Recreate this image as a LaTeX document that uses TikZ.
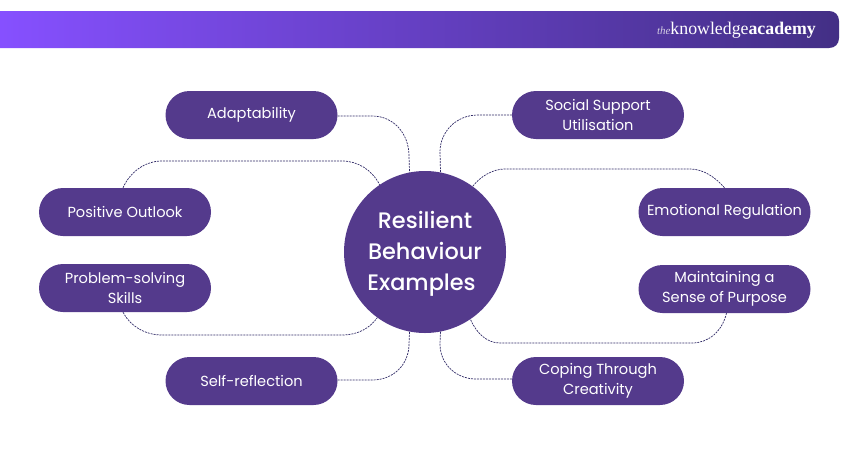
\documentclass[tikz,border=0pt]{standalone}
\usepackage{fontspec}
\setmainfont{Poppins}
\newfontfamily\logofont{Liberation Serif}
\newfontfamily\hubfont{Poppins Medium}
\definecolor{pill}{HTML}{543A8C}
\definecolor{barL}{HTML}{8650FF}
\definecolor{barR}{HTML}{432F85}
\definecolor{linkc}{HTML}{2F2A66}
\tikzset{
  x=1pt,y=-1pt,
  pillbox/.style={draw=none,fill=pill,rounded corners=24pt,minimum width=172pt,minimum height=48pt,inner sep=0pt,align=center,text=white,font=\fontsize{14.6}{20}\selectfont},
  hubnode/.style={circle,fill=pill,minimum size=162pt,inner sep=0pt},
  hubtitle/.style={text=white,align=center,inner sep=0pt,font=\hubfont\fontsize{22.4}{31}\selectfont},
  linkline/.style={draw=linkc,line width=0.7pt,dash pattern=on 2pt off 1pt},
  logotext/.style={inner sep=0pt,text=white,font=\logofont\fontsize{17.8}{18}\selectfont}
}
\begin{document}
\begin{tikzpicture}
\useasboundingbox (0,0) rectangle (850,450);
\shade[left color=barL,right color=barR] (0,11) -- (829,11) .. controls (835,11) and (839,15) .. (839,21) -- (839,38) .. controls (839,44) and (835,48) .. (829,48) -- (0,48) -- cycle;
\node[logotext,anchor=east] (logo) at (816,30) {{\itshape\fontsize{11}{12}\selectfont\color{white!75!pill}the}knowledge\textbf{academy}};

\node[hubnode] (hub) at (425,252) {};
\node[hubtitle] (hubtext) at (425,254) {Resilient\\Behaviour\\\mbox{Examples\kern7pt}};
\node[pillbox] (adapt) at (251.5,115) {Adaptability};
\node[pillbox] (social) at (598,115) {Social Support\\Utilisation};
\node[pillbox] (outlook) at (125,212) {Positive Outlook};
\node[pillbox] (emotion) at (724.5,212) {Emotional Regulation};
\node[pillbox] (problem) at (125,288) {Problem-solving\\Skills};
\node[pillbox] (purpose) at (724.5,289) {Maintaining a\\Sense of Purpose};
\node[pillbox] (selfref) at (251.5,381) {Self-reflection};
\node[pillbox] (coping) at (598,381) {Coping Through\\Creativity};

\draw[linkline] (adapt.east) ++(0,1) -- (372,116) .. controls (394,116) and (409,134) .. (409,156) -- (hub.101);
\draw[linkline] (social.west) -- (478,115) .. controls (456,115) and (440,132) .. (440,152) -- (hub.79);
\draw[linkline] (outlook.north) ++(-2,0) .. controls (130,172) and (145,161) .. (162,161) -- (342,161) .. controls (358,161) and (372,170) .. (hub.124);
\draw[linkline] (emotion.north) .. controls (716,178) and (704,169) .. (690,169) -- (505,169) .. controls (492,169) and (480,177) .. (hub.54);
\draw[linkline] (problem.south) ++(-2,0) .. controls (130,326) and (145,335) .. (162,335) -- (342,335) .. controls (358,335) and (370,328) .. (hub.-126);
\draw[linkline] (purpose.south) ++(2,0) .. controls (722,332) and (708,343) .. (692,343) -- (500,343) .. controls (486,343) and (476,332) .. (hub.-56);
\draw[linkline] (selfref.east) ++(0,-1) -- (372,380) .. controls (394,380) and (409,364) .. (409,344) -- (hub.-101);
\draw[linkline] (coping.west) ++(0,-2) -- (476,379) .. controls (456,379) and (440,364) .. (440,344) -- (hub.-79);
\end{tikzpicture}
\end{document}
